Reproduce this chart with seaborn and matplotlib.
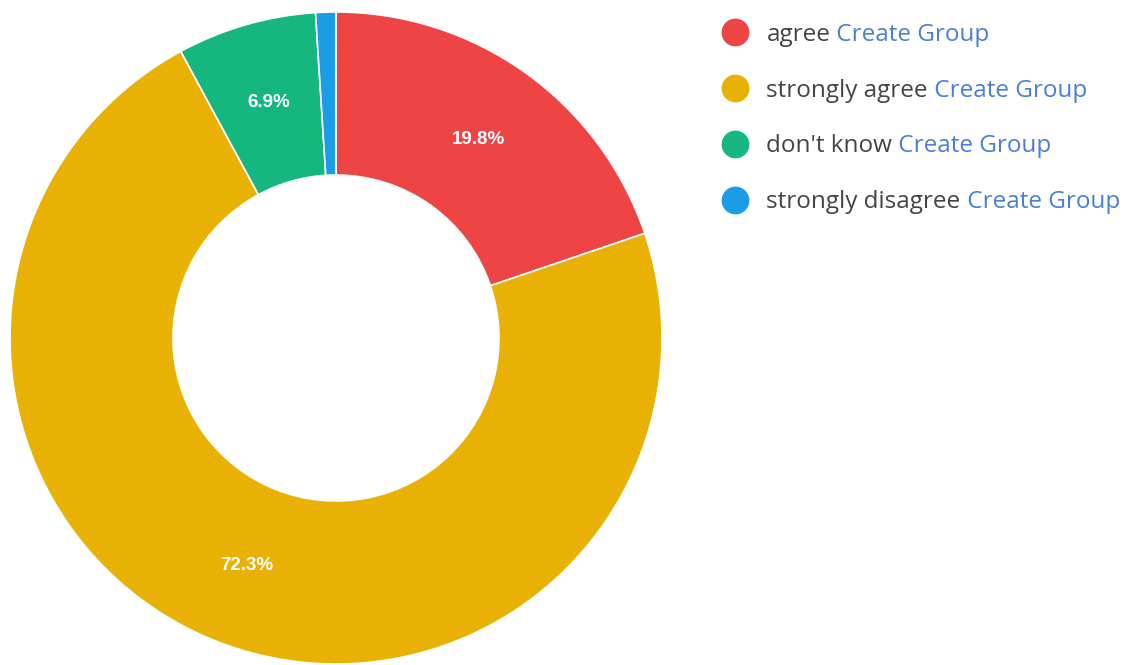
import matplotlib
matplotlib.use("Agg")
import matplotlib.pyplot as plt
import seaborn as sns
from matplotlib.lines import Line2D

# data
categories = ["agree", "strongly agree", "don't know", "strongly disagree"]
shares = [19.8, 72.3, 6.9, 1.0]
colors = ["#EE4444", "#E8B104", "#16B67F", "#1A9DE6"]
link_text = "Create Group"

sns.set_theme(style="white")
plt.rcParams["font.family"] = ["Open Sans", "DejaVu Sans"]

fig = plt.figure(figsize=(11.25, 6.65), dpi=100)
# pie axes: center ~ (336, 338) px, radius ~ 326 px
ax = fig.add_axes([10 / 1125, 1 / 665, 652 / 1125, 652 / 665])


def pct_label(p):
    # smallest slice has no label
    return f"{p:.1f}%" if p >= 2 else ""


wedges, texts, autotexts = ax.pie(
    shares,
    colors=sns.color_palette(colors),
    startangle=90,
    counterclock=False,
    radius=1.0,
    autopct=pct_label,
    pctdistance=0.75,
    wedgeprops=dict(width=0.5, edgecolor="white", linewidth=1.2),
)
for t in autotexts:
    t.set_color("white")
    t.set_fontsize(13.5)
    t.set_fontweight("bold")
    t.set_family(["Liberation Sans", "DejaVu Sans"])
ax.set_xlim(-1.0, 1.0)
ax.set_ylim(-1.0, 1.0)
ax.set_aspect("equal")
ax.axis("off")

# legend
handles = [
    Line2D([], [], marker="o", linestyle="", markersize=19,
           markerfacecolor=c, markeredgecolor=c)
    for c in colors
]
leg = fig.legend(
    handles, categories,
    loc="upper left",
    bbox_to_anchor=(713 / 1125, 1 - 13 / 665),
    frameon=False,
    fontsize=17.5,
    labelspacing=1.31,
    handletextpad=0.75,
    handlelength=1.05,
    borderaxespad=0,
)
for t in leg.get_texts():
    t.set_color("#444444")

fig.canvas.draw()
for t in leg.get_texts():
    plt.annotate(
        " " + link_text,
        xy=(1, 0), xycoords=t,
        ha="left", va="bottom",
        fontsize=17.5, color="#4A7FD2",
        annotation_clip=False,
    )

fig.savefig("out.png", dpi=100)
